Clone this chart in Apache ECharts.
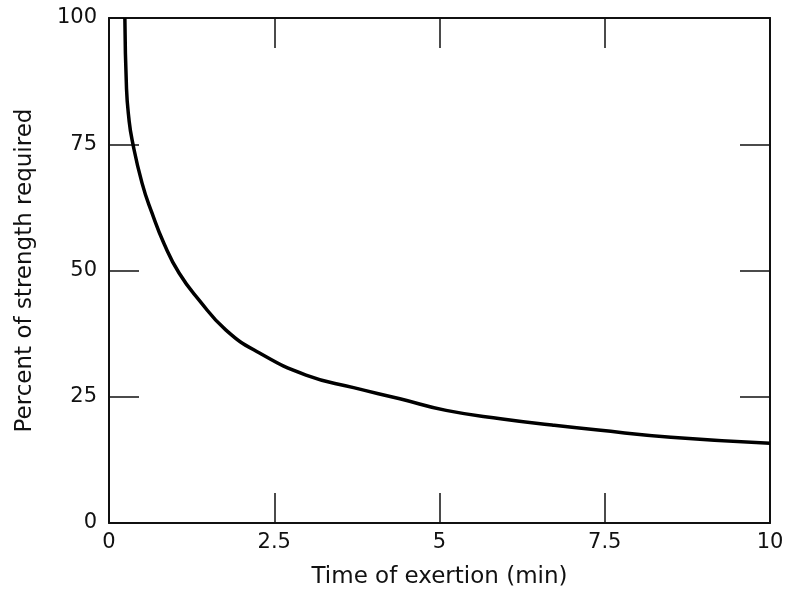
<!DOCTYPE html>
<html>
<head>
<meta charset="utf-8">
<script src="https://cdn.jsdelivr.net/npm/echarts@6/dist/echarts.min.js"></script>
<style>
  html, body { margin: 0; padding: 0; background: #fff; }
  #chart { width: 789px; height: 599px; }
</style>
</head>
<body>
<div id="chart"></div>
<script>
// time of exertion (min) and percent of strength required
const timeMin = [0.24, 0.265, 0.3, 0.35, 0.5, 0.65, 0.83, 1.06, 1.36, 1.77, 2.27, 2.98, 3.7, 4.4, 5.1, 5.95, 6.7, 7.4, 8.5, 10];
const percentStrength = [100, 86, 80.2, 75.8, 67.3, 61.4, 55.4, 49.5, 44.2, 38.2, 33.7, 29.3, 26.8, 24.6, 22.3, 20.6, 19.4, 18.4, 17.0, 15.8];

const xTitle = 'Time of exertion (min)';
const yTitle = 'Percent of strength required';

const points = timeMin.map((t, i) => [t, percentStrength[i]]);

const chart = echarts.init(document.getElementById('chart'));
const font = '"DejaVu Sans", sans-serif';
const ink = '#111';

// frame lines, kept on their own side (no onZero)
const lineAxis = { show: true, onZero: false, lineStyle: { color: ink, width: 2 } };
const tickIn = { show: true, inside: true, length: 30, lineStyle: { color: ink, width: 1.5 } };

chart.setOption({
  animation: false,
  grid: { left: 109, right: 19, top: 18, bottom: 76 },
  xAxis: [
    {
      type: 'value', position: 'bottom', min: 0, max: 10, interval: 2.5,
      axisLine: lineAxis, axisTick: tickIn, splitLine: { show: false },
      axisLabel: { color: ink, fontSize: 21, fontFamily: font, margin: 9 },
      name: xTitle, nameLocation: 'middle', nameGap: 43,
      nameTextStyle: { color: ink, fontSize: 23, fontFamily: font }
    },
    {
      type: 'value', position: 'top', min: 0, max: 10, interval: 2.5,
      axisLine: lineAxis, axisTick: tickIn, axisLabel: { show: false }, splitLine: { show: false }
    }
  ],
  yAxis: [
    {
      type: 'value', position: 'left', min: 0, max: 100, interval: 25,
      axisLine: lineAxis, axisTick: tickIn, splitLine: { show: false },
      axisLabel: { color: ink, fontSize: 21, fontFamily: font, margin: 12 },
      name: yTitle, nameLocation: 'middle', nameGap: 72,
      nameTextStyle: { color: ink, fontSize: 23, fontFamily: font }
    },
    {
      type: 'value', position: 'right', min: 0, max: 100, interval: 25,
      axisLine: lineAxis, axisTick: tickIn, axisLabel: { show: false }, splitLine: { show: false }
    }
  ],
  series: [
    {
      type: 'line',
      data: points,
      smooth: 0.5,
      showSymbol: false,
      lineStyle: { color: '#000', width: 3.5 }
    }
  ]
});
</script>
</body>
</html>
